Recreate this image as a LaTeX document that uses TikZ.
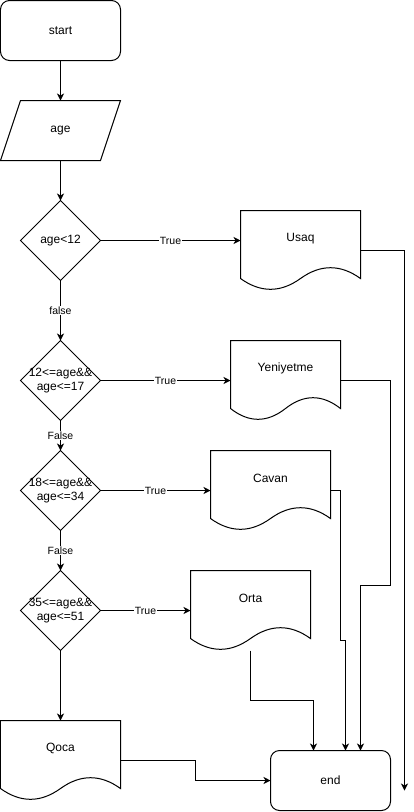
\documentclass[tikz,border=0pt]{standalone}
\usepackage{fontspec}
\setmainfont{Liberation Sans}
\usetikzlibrary{arrows.meta,calc}

% outline of a document shape (wavy bottom) on a rectangle node of width #2 and height 80
\newcommand{\docoutline}[2]{%
  \draw[line, shift={(#1.north west)}]
    (0,0) -- (#2,0) -- (#2,68)
    .. controls ({5*#2/6},53.6) and ({2*#2/3},53.6) .. ({#2/2},68)
    .. controls ({#2/3},82.4) and ({#2/6},82.4) .. (0,68) -- cycle;}

\begin{document}
\begin{tikzpicture}[x=1pt,y=-1pt,
  line/.style={line width=1pt, draw=black},
  flow/.style={line, -{Stealth[length=7pt,width=7pt,inset=2pt]}},
  box/.style={rectangle, inner sep=0pt, outer sep=0pt, align=center,
    font=\fontsize{12}{14}\selectfont},
  term/.style={box, draw, line width=1pt, rounded corners=9pt,
    minimum width=120pt, minimum height=60pt},
  io/.style={box, minimum width=120pt, minimum height=60pt},
  decision/.style={box, minimum width=80pt, minimum height=80pt},
  doc/.style={box, minimum width=#1, minimum height=80pt},
  doc/.default=120pt,
  doctext/.style={font=\fontsize{12}{14}\selectfont, inner sep=0pt, yshift=12pt},
  elabel/.style={fill=white, inner sep=1pt, font=\fontsize{10.5}{12}\selectfont}
]
\useasboundingbox (-0.5,-0.5) rectangle (413.5,811.5);

% start / input
\node[term] (start) at (60,30) {start};
\node[io] (age) at (60,130) {age};
\draw[line] ($(age.north west)+(20,0)$) -- (age.north east)
  -- ($(age.south east)+(-20,0)$) -- (age.south west) -- cycle;

% decisions
\node[decision] (d1) at (60,240) {age<12};
\node[decision] (d2) at (60,380) {12<=age\&\&\\age<=17};
\node[decision] (d3) at (60,490) {18<=age\&\&\\age<=34};
\node[decision] (d4) at (60,610) {35<=age\&\&\\age<=51};
\foreach \d in {d1,d2,d3,d4}
  \draw[line] (\d.north) -- (\d.east) -- (\d.south) -- (\d.west) -- cycle;

% outputs
\node[doc, label={[doctext]center:Usaq}] (usaq) at (300,250) {};
\node[doc=110pt, label={[doctext]center:Yeniyetme}] (yeni) at (285,380) {};
\node[doc, label={[doctext]center:Cavan}] (cavan) at (270,490) {};
\node[doc, label={[doctext]center:Orta}] (orta) at (250,610) {};
\node[doc, label={[doctext]center:Qoca}] (qoca) at (60,760) {};
\docoutline{usaq}{120}
\docoutline{yeni}{110}
\docoutline{cavan}{120}
\docoutline{orta}{120}
\docoutline{qoca}{120}

% end
\node[term] (end) at (330,780) {end};
\coordinate (usaqend) at (404,790);

% connectors
\draw[flow] (start.south) -- (age.north);
\draw[flow] (age.south) -- (d1.north);
\draw[flow] (d1.east) -- node[elabel] {True} (d1.east -| usaq.west);
\draw[flow] (d1.south) -- node[elabel] {false} (d2.north);
\draw[flow] (d2.east) -- node[elabel] {True} (yeni.west);
\draw[flow] (d2.south) -- node[elabel] {False} (d3.north);
\draw[flow] (d3.east) -- node[elabel] {True} (cavan.west);
\draw[flow] (d3.south) -- node[elabel] {False} (d4.north);
\draw[flow] (d4.east) -- node[elabel] {True} (orta.west);
\draw[flow] (d4.south) -- (qoca.north);

\draw[flow] (usaq.east) -| (usaqend);
\draw[flow] (yeni.east) -| ++(50,205) -| ([xshift=30pt]end.north);
\draw[flow] (cavan.east) -| ++(10,150) -| ([xshift=15pt]end.north);
\draw[flow] (orta.south) -- ++(0,50) -| ([xshift=-17pt]end.north);
\draw[flow] (qoca.east) -| ++(75,20) -- (end.west);
\end{tikzpicture}
\end{document}
